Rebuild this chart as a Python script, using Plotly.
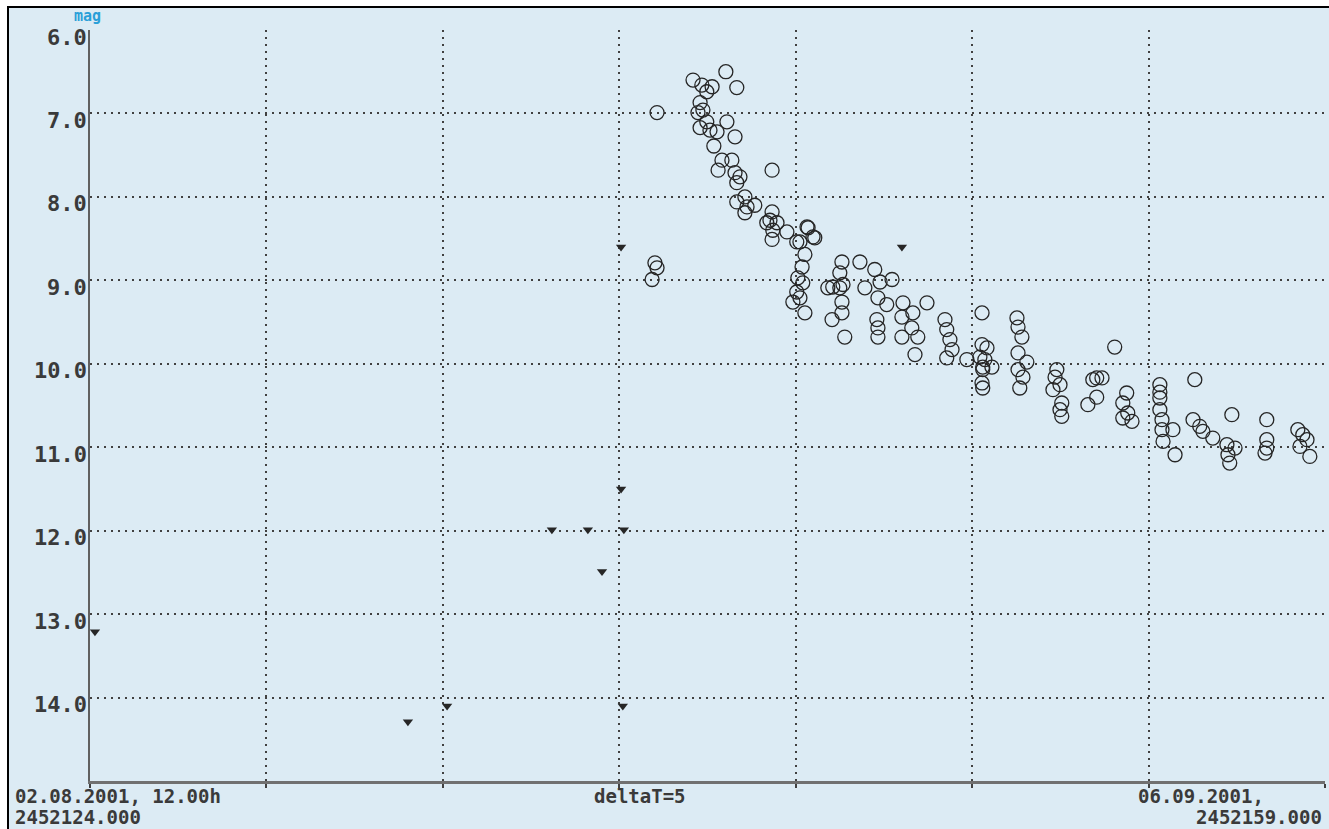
import plotly.graph_objects as go

# Days since JD 2452124.000 and visual magnitudes
obs_days = [16.07, 16.01, 16.07, 15.93,
    17.09, 17.34, 17.63, 17.48, 18.02, 18.33, 17.29, 17.37, 17.23, 17.48, 17.29, 17.57,
    17.77, 18.05, 18.28, 17.68, 17.91, 18.19, 17.80, 18.28, 18.42, 18.33, 19.33, 18.56,
    18.33, 18.62, 18.84, 18.56, 19.33, 19.27, 19.47, 19.18, 19.35, 19.75, 20.32, 20.49,
    19.33, 20.12, 20.35, 20.54, 20.03, 20.26, 20.18, 20.06, 20.20, 20.03, 20.12, 20.26,
    19.92, 21.31, 21.82, 22.24, 21.25, 21.05, 21.25, 21.34, 20.91, 21.96, 22.39, 22.73,
    22.33, 22.58, 23.04, 23.72, 21.31, 21.31, 21.03, 22.30, 22.33, 22.33, 23.01, 23.32,
    23.01, 23.46, 23.29, 21.39, 23.38, 24.23, 24.28, 24.37, 24.43, 24.28, 24.85, 25.28,
    25.28, 25.22, 25.30, 25.28, 25.42, 25.36, 25.56, 25.30, 25.30, 26.27, 26.30, 26.41,
    26.30, 26.55, 26.30, 26.44, 26.35, 27.40, 27.35, 27.49, 27.29, 27.54, 27.49, 27.54,
    28.53, 28.42, 28.68, 28.53, 28.28, 29.04, 29.38, 29.27, 29.41, 29.53, 29.27, 30.32,
    30.32, 30.32, 30.32, 30.38, 30.38, 30.69, 30.41, 30.75, 31.31, 31.26, 31.45, 31.54,
    31.82, 32.36, 32.22, 32.45, 32.25, 32.30, 33.35, 33.35, 33.35, 33.30, 34.23, 34.37,
    34.49, 34.29, 34.57]
obs_mags = [6.99, 8.79, 8.85, 8.99,
    6.60, 6.66, 6.68, 6.74, 6.50, 6.69, 6.87, 6.96, 6.99, 7.10, 7.17, 7.20,
    7.22, 7.10, 7.28, 7.39, 7.56, 7.56, 7.68, 7.71, 7.76, 7.83, 7.68, 8.00,
    8.06, 8.12, 8.10, 8.19, 8.18, 8.28, 8.31, 8.31, 8.40, 8.42, 8.36, 8.48,
    8.51, 8.54, 8.37, 8.49, 8.54, 8.69, 8.84, 8.97, 9.03, 9.14, 9.21, 9.39,
    9.26, 8.78, 8.78, 8.87, 8.91, 9.08, 9.09, 9.05, 9.09, 9.09, 9.02, 8.99,
    9.21, 9.29, 9.27, 9.27, 9.26, 9.39, 9.47, 9.47, 9.57, 9.68, 9.44, 9.39,
    9.68, 9.68, 9.57, 9.68, 9.89, 9.47, 9.59, 9.71, 9.83, 9.93, 9.95, 9.39,
    9.77, 9.92, 10.04, 10.23, 9.81, 9.95, 10.04, 10.07, 10.29, 9.45, 9.56, 9.68,
    9.87, 9.98, 10.07, 10.16, 10.29, 10.07, 10.16, 10.25, 10.31, 10.47, 10.55, 10.63,
    10.17, 10.19, 10.17, 10.40, 10.49, 9.80, 10.35, 10.47, 10.59, 10.69, 10.65, 10.25,
    10.34, 10.41, 10.55, 10.67, 10.79, 10.79, 10.93, 11.09, 10.19, 10.67, 10.75, 10.81,
    10.89, 10.61, 10.97, 11.01, 11.09, 11.19, 10.67, 10.91, 11.01, 11.07, 10.79, 10.85,
    10.91, 10.99, 11.11]

# "fainter than" observations
lim_days = [0.14, 9.01, 10.12, 13.09, 14.11, 14.51, 15.05, 15.13, 15.10, 15.05, 23.01]
lim_mags = [13.21, 14.29, 14.10, 11.99, 11.99, 12.49, 11.50, 11.99, 14.10, 8.60, 8.60]

x_ticks = [0, 5, 10, 15, 20, 25, 30, 35]
y_ticks = [6, 7, 8, 9, 10, 11, 12, 13, 14]
x_range = [0, 35]
y_range = [15, 6]

BG = "#dcebf4"
TXT = "#3a3a3a"
FONT = "DejaVu Sans Mono"

fig = go.Figure()
fig.add_trace(go.Scatter(
    x=obs_days, y=obs_mags, mode="markers",
    marker=dict(symbol="circle-open", size=14, color="#262626", line=dict(width=1.3)),
    showlegend=False, hoverinfo="skip"))
fig.add_trace(go.Scatter(
    x=lim_days, y=lim_mags, mode="markers",
    marker=dict(symbol="triangle-down", size=9, color="#262626"),
    showlegend=False, hoverinfo="skip"))

W, H = 1329, 829
L, R, T, B = 90, 4, 30, 48
pw, ph = W - L - R, H - T - B

def px_x(p):
    return (p - L) / pw

def px_y(p):
    return (H - B - p) / ph

shapes = [
    dict(type="rect", xref="paper", yref="paper", layer="below",
         x0=px_x(8), x1=px_x(W + 10), y0=px_y(H + 10), y1=px_y(7),
         fillcolor=BG, line=dict(color="black", width=2)),
]

annotations = []
for v in y_ticks:
    annotations.append(dict(
        x=0, xref="paper", y=v, yref="y", text=f"{v:.1f}", showarrow=False,
        xanchor="right", yanchor="middle", xshift=-1, yshift=-7,
        font=dict(family=FONT, size=22, color=TXT, weight="bold")))

annotations.append(dict(
    x=0, xref="paper", y=1, yref="paper", text="mag", showarrow=False,
    xanchor="center", yanchor="bottom", xshift=-3, yshift=3,
    font=dict(family=FONT, size=15, color="#2a9fd8", weight="bold")))

bottom_font = dict(family=FONT, size=19, color=TXT, weight="bold")
common = dict(showarrow=False, yanchor="middle", borderpad=0, font=bottom_font)
annotations += [
    dict(x=0, xref="paper", y=0, yref="paper", text="02.08.2001, 12.00h",
         xanchor="left", xshift=14 - L, yshift=-15, **common),
    dict(x=0, xref="paper", y=0, yref="paper", text="2452124.000",
         xanchor="left", xshift=14 - L, yshift=-36, **common),
    dict(x=15, xref="x", y=0, yref="paper", text="deltaT=5",
         xanchor="left", xshift=-26, yshift=-15, **common),
    dict(x=1, xref="paper", y=0, yref="paper", text="06.09.2001,",
         xanchor="left", xshift=-188, yshift=-15, **common),
    dict(x=1, xref="paper", y=0, yref="paper", text="2452159.000",
         xanchor="right", xshift=-2, yshift=-36, **common),
]

fig.update_layout(
    width=W, height=H,
    margin=dict(l=L, r=R, t=T, b=B),
    paper_bgcolor="white", plot_bgcolor="rgba(0,0,0,0)",
    shapes=shapes, annotations=annotations,
    xaxis=dict(range=x_range, tickvals=x_ticks, showticklabels=False,
               showgrid=True, gridcolor="#404040", gridwidth=2, griddash="2px,5px",
               showline=True, linecolor="#707070", linewidth=3,
               ticks="outside", ticklen=4, tickwidth=2, tickcolor="#404040",
               zeroline=False),
    yaxis=dict(range=y_range, tickvals=y_ticks, showticklabels=False,
               showgrid=True, gridcolor="#404040", gridwidth=2, griddash="2px,5px",
               showline=True, linecolor="#606060", linewidth=2,
               ticks="", zeroline=False),
)

fig.write_html(
    "out.html",
    config={"displayModeBar": False},
    post_script="document.body.style.margin='0';document.body.style.overflow='hidden';",
)
